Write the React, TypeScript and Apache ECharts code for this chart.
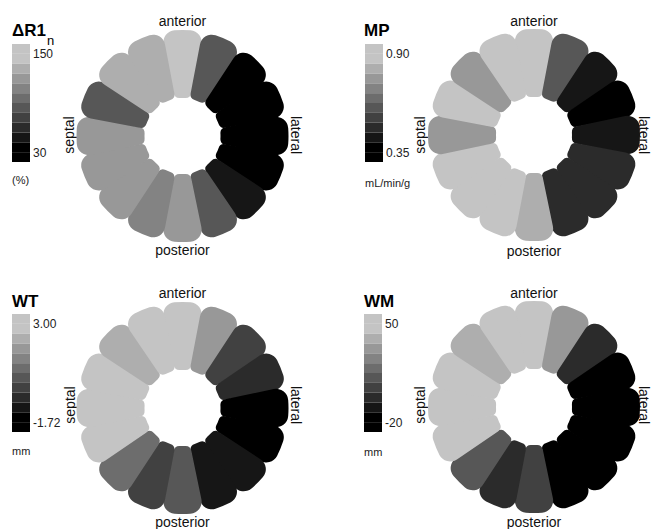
import { useEffect, useRef } from 'react';
import * as echarts from 'echarts';

// ---- data ----
// 16 myocardial segments, clockwise starting at 12 o'clock (anterior)
const SEGMENTS = ['S1', 'S2', 'S3', 'S4', 'S5', 'S6', 'S7', 'S8', 'S9', 'S10', 'S11', 'S12', 'S13', 'S14', 'S15', 'S16'];
const SEGMENT_SIZE = [1, 1, 1, 1, 1, 1, 1, 1, 1, 1, 1, 1, 1, 1, 1, 1];

const DR1N_VALUES = [146, 84, 32, 31, 34, 36, 52, 86, 116, 104, 113, 115, 117, 82, 127, 124];
const MP_VALUES = [0.88, 0.6, 0.46, 0.37, 0.45, 0.51, 0.5, 0.52, 0.78, 0.86, 0.87, 0.85, 0.74, 0.88, 0.73, 0.89];
const WT_VALUES = [2.72, 1.62, 0.05, -0.35, -1.52, -1.45, -0.74, -0.68, 0.44, 0.08, 0.83, 2.61, 2.85, 2.54, 2.02, 2.78];
const WM_VALUES = [46, 29, 1, -16, -18, -14, -17, -13, 6, 0, 12, 44, 47, 45, 35, 48];

const DR1N_RANGE = [30, 150];
const MP_RANGE = [0.35, 0.9];
const WT_RANGE = [-1.72, 3.0];
const WM_RANGE = [-20, 50];

const DR1N_TICKS = ['150', '30'];
const MP_TICKS = ['0.90', '0.35'];
const WT_TICKS = ['3.00', '-1.72'];
const WM_TICKS = ['50', '-20'];

const TITLES = ['ΔR1', 'MP', 'WT', 'WM'];
const UNITS = ['(%)', 'mL/min/g', 'mm', 'mm'];
const DIRECTIONS = ['anterior', 'posterior', 'septal', 'lateral'];

// ---- styles ----
const GRAY_LEVELS = ['#000000', '#161616', '#2b2b2b', '#414141', '#575757', '#6d6d6d', '#838383', '#989898', '#aeaeae', '#c4c4c4'];
const CELL_LEVEL = [0, 0, 1, 2, 3, 4, 5, 6, 7, 8, 9, 9];
const FONT = '"Liberation Sans", Arial, Helvetica, sans-serif';

const LAYOUT = [
  { center: [182.5, 136], bar: [12, 44], title: [12, 30], unit: [12, 180], ant: 21, post: 250, sept: 69, lat: 296, side: 135 },
  { center: [534, 135], bar: [365, 44], title: [364, 30], unit: [365, 183], ant: 21, post: 251, sept: 420, lat: 644, side: 135 },
  { center: [182.5, 408], bar: [12, 314], title: [12, 301], unit: [12, 451], ant: 293, post: 522, sept: 70, lat: 296, side: 405 },
  { center: [534, 407], bar: [364, 314], title: [364, 301], unit: [364, 452], ant: 293, post: 522, sept: 420, lat: 644, side: 405 },
];

const BAR_W = 18;
const BAR_H = 118;

export default function App() {
  const ref = useRef<HTMLDivElement>(null);

  useEffect(() => {
    if (!ref.current) return;
    const chart = echarts.init(ref.current, undefined, { renderer: 'svg' });

    const panelValues = [DR1N_VALUES, MP_VALUES, WT_VALUES, WM_VALUES];
    const panelRanges = [DR1N_RANGE, MP_RANGE, WT_RANGE, WM_RANGE];
    const panelTicks = [DR1N_TICKS, MP_TICKS, WT_TICKS, WM_TICKS];

    const dataset = panelValues.map((vals) => ({
      dimensions: ['segment', 'size', 'score'],
      source: SEGMENTS.map((s, j) => [s, SEGMENT_SIZE[j], vals[j]]),
    }));

    const series = LAYOUT.map((L, i) => ({
      type: 'pie',
      datasetIndex: i,
      encode: { itemName: 'segment', value: 'size' },
      center: L.center,
      radius: [38, 106],
      startAngle: 90 + 180 / SEGMENTS.length,
      clockwise: true,
      padAngle: -0.9,
      minAngle: 0,
      silent: true,
      label: { show: false },
      labelLine: { show: false },
      emphasis: { disabled: true },
      itemStyle: { borderRadius: [6, 12], borderWidth: 0 },
    }));

    const visualMap = LAYOUT.map((L, i) => {
      const [lo, hi] = panelRanges[i];
      const n = CELL_LEVEL.length;
      const step = (hi - lo) / n;
      const pieces = CELL_LEVEL.map((lvl, k) =>
        k === 0
          ? { gte: lo - 1e-9, lte: lo + step, color: GRAY_LEVELS[lvl] }
          : { gt: lo + k * step, lte: lo + (k + 1) * step + (k === n - 1 ? 1e-9 : 0), color: GRAY_LEVELS[lvl] }
      );
      return {
        type: 'piecewise',
        seriesIndex: i,
        dimension: 2,
        pieces,
        orient: 'vertical',
        left: L.bar[0],
        top: L.bar[1],
        padding: 0,
        itemWidth: BAR_W,
        itemHeight: BAR_H / n,
        itemGap: 0,
        itemSymbol: 'rect',
        showLabel: false,
        selectedMode: false,
        hoverLink: false,
      };
    });

    const txt = (text: string, x: number, y: number, opts: any = {}) => ({
      type: 'text',
      x,
      y,
      rotation: opts.rotation || 0,
      silent: true,
      style: {
        text,
        fill: opts.fill || '#111',
        fontSize: opts.size || 14,
        fontWeight: opts.weight || 'normal',
        fontFamily: FONT,
        align: opts.align || 'left',
        verticalAlign: 'middle',
      },
    });

    const graphic: any[] = [];
    LAYOUT.forEach((L, i) => {
      graphic.push(txt(TITLES[i], L.title[0], L.title[1], { size: 17, weight: 'bold', fill: '#000' }));
      if (i === 0) graphic.push(txt('n', L.title[0] + 35, L.title[1] + 10, { size: 13, fill: '#000' }));
      graphic.push(txt(panelTicks[i][0], L.bar[0] + 21, L.bar[1] + 10, { size: 12, fill: '#222' }));
      graphic.push(txt(panelTicks[i][1], L.bar[0] + 21, L.bar[1] + BAR_H - 9, { size: 12, fill: '#222' }));
      graphic.push(txt(UNITS[i], L.unit[0], L.unit[1], { size: 11, fill: '#222' }));
      graphic.push(txt(DIRECTIONS[0], L.center[0], L.ant, { align: 'center' }));
      graphic.push(txt(DIRECTIONS[1], L.center[0], L.post, { align: 'center' }));
      graphic.push(txt(DIRECTIONS[2], L.sept, L.side, { align: 'center', rotation: Math.PI / 2 }));
      graphic.push(txt(DIRECTIONS[3], L.lat, L.side, { align: 'center', rotation: -Math.PI / 2 }));
    });

    chart.setOption({
      animation: false,
      backgroundColor: '#ffffff',
      dataset,
      visualMap,
      series,
      graphic,
    });

    return () => chart.dispose();
  }, []);

  return (
    <div
      ref={ref}
      style={{ position: 'fixed', left: 0, top: 0, width: 652, height: 529, background: '#fff' }}
    />
  );
}
